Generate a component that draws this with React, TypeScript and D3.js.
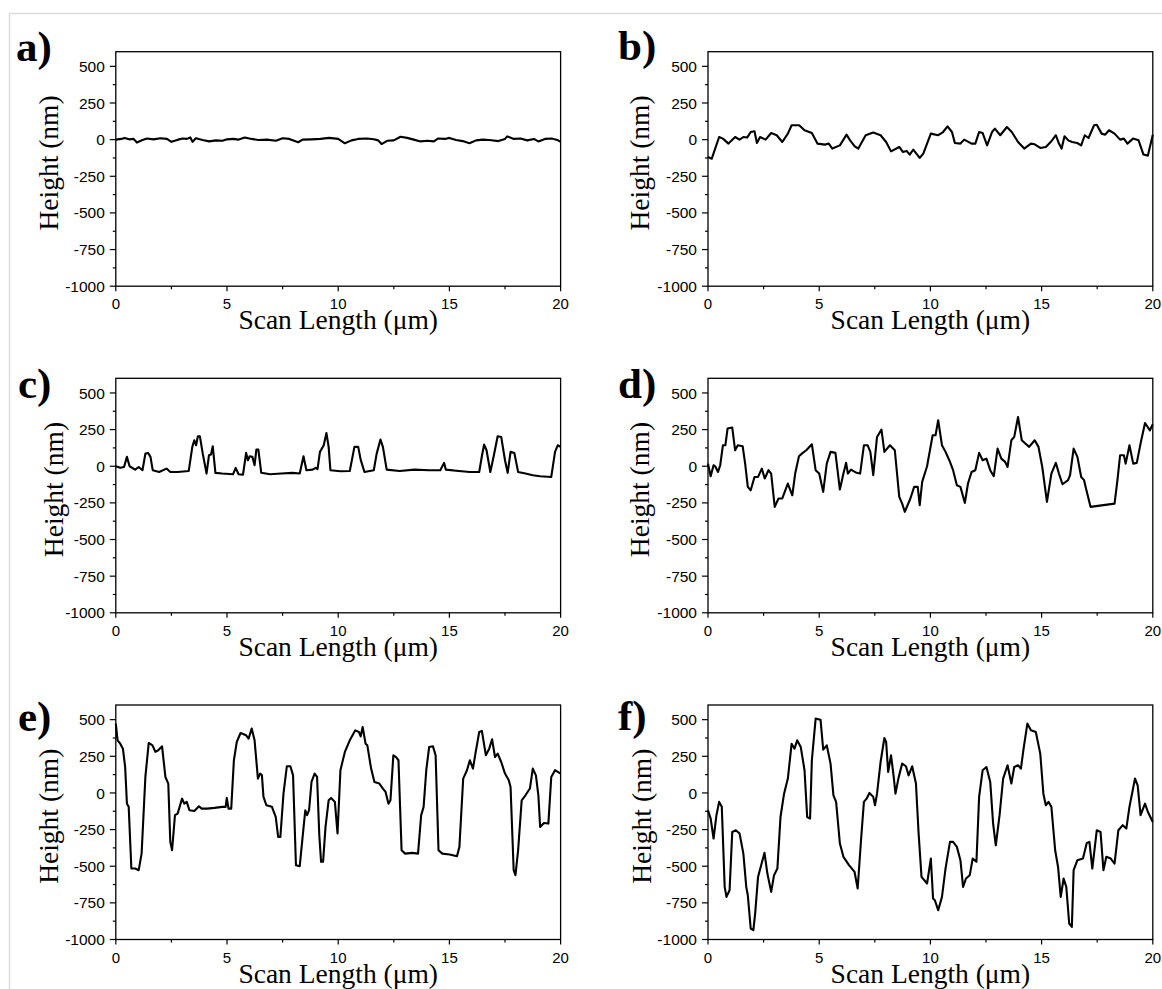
import React from "react";
import * as d3 from "d3";

// ---------- data (Scan Length μm, Height nm) ----------
const profileA: [number, number][] = [
  [0, 0], [0.25, 5], [0.4, 12], [0.6, 2], [0.8, 5], [0.95, -20], [1.2, -2], [1.4, 8], [1.7, 2], [2.0, 10],
  [2.3, 5], [2.5, -15], [2.8, 0], [3.0, 8], [3.2, 5], [3.35, 15], [3.45, -15], [3.6, 10], [3.9, -3], [4.2, -12],
  [4.5, -5], [4.8, -8], [5.0, 2], [5.3, 5], [5.5, 0], [5.8, 15], [6.1, 5], [6.4, -2], [6.8, 0], [7.2, -8],
  [7.5, 10], [7.8, 5], [8.2, -18], [8.4, 0], [8.8, 2], [9.2, 5], [9.6, 12], [10.0, 5], [10.3, -25], [10.6, -5],
  [10.9, 5], [11.3, 8], [11.6, 3], [11.8, -5], [11.95, -30], [12.2, -8], [12.5, -5], [12.8, 20], [13.1, 12], [13.4, 0],
  [13.7, -12], [14.0, -8], [14.3, -12], [14.5, 8], [14.8, 5], [15.0, 12], [15.3, -2], [15.6, -10], [15.9, -25], [16.2, -5],
  [16.5, 0], [16.8, -3], [17.2, -10], [17.5, 5], [17.6, 22], [17.9, 5], [18.2, 8], [18.5, -5], [18.8, 5], [19.0, -12],
  [19.3, 5], [19.6, 8], [19.85, -2], [20, -15],
];

const profileB: [number, number][] = [
  [0, -118], [0.17, -130], [0.5, 18], [0.67, 7], [0.92, -27], [1.22, 18], [1.42, 0], [1.59, 18], [1.76, 14], [1.92, 52],
  [2.09, 57], [2.2, -23], [2.34, 18], [2.59, 0], [2.84, 45], [3.09, 30], [3.34, -16], [3.59, 41], [3.76, 98], [4.1, 98],
  [4.34, 64], [4.67, 45], [4.92, -27], [5.26, -34], [5.43, -27], [5.59, -61], [5.93, -39], [6.23, 34], [6.39, -5], [6.59, -45],
  [6.76, -61], [7.09, 30], [7.43, 48], [7.76, 30], [8.01, -16], [8.23, -80], [8.6, -50], [8.76, -84], [8.93, -77], [9.07, -102],
  [9.23, -68], [9.52, -125], [9.68, -95], [10.02, 41], [10.35, 30], [10.57, 52], [10.77, 91], [10.97, 52], [11.1, -23], [11.35, -27],
  [11.52, 0], [11.85, -27], [12.02, -27], [12.19, 52], [12.35, 45], [12.55, -39], [12.77, 52], [12.9, 75], [13.14, 30], [13.44, 86],
  [13.66, 52], [13.94, -16], [14.22, -61], [14.52, -27], [14.69, -32], [14.94, -57], [15.19, -50], [15.44, -11], [15.64, 30], [15.78, -27],
  [15.9, -61], [16.03, 23], [16.2, -5], [16.37, -16], [16.6, -23], [16.78, -39], [16.94, 30], [17.11, 11], [17.36, 98], [17.48, 102],
  [17.7, 41], [17.86, 34], [18.03, 64], [18.28, 41], [18.53, 0], [18.7, 7], [18.86, -27], [19.11, 7], [19.36, -5], [19.58, -102],
  [19.78, -109], [20, 34],
];

const profileC: [number, number][] = [
  [0, 0], [0.2, -11], [0.37, -5], [0.5, 64], [0.62, 0], [0.87, -23], [1.03, -5], [1.2, -27], [1.33, 86], [1.45, 91],
  [1.56, 64], [1.66, -27], [1.95, -39], [2.28, -16], [2.45, -39], [2.78, -39], [3.28, -32], [3.44, 132], [3.53, 177], [3.61, 143],
  [3.69, 205], [3.78, 205], [3.91, 86], [4.08, -50], [4.19, 75], [4.28, 80], [4.36, 136], [4.48, -45], [4.78, -50], [5.27, -55],
  [5.39, -11], [5.52, -55], [5.72, -57], [5.86, 91], [5.94, 41], [6.02, 68], [6.14, 64], [6.24, 7], [6.32, 114], [6.41, 114],
  [6.54, -45], [6.94, -55], [7.44, -50], [7.94, -45], [8.27, -50], [8.44, 68], [8.57, -27], [8.85, -23], [8.99, -11], [9.07, -20],
  [9.18, 98], [9.35, 143], [9.47, 227], [9.57, 132], [9.65, -27], [10.1, -34], [10.52, -32], [10.73, 132], [10.9, 132], [11.01, 45],
  [11.18, -39], [11.6, -27], [11.73, 86], [11.9, 182], [12.01, 132], [12.18, -23], [12.76, -32], [13.43, -23], [14.09, -27], [14.59, -27],
  [14.76, 23], [14.84, -23], [15.42, -32], [15.92, -39], [16.34, -39], [16.46, 68], [16.56, 148], [16.67, 109], [16.84, -39], [17.0, 75],
  [17.17, 205], [17.33, 200], [17.5, 41], [17.62, -45], [17.75, 98], [17.92, 91], [18.09, -39], [18.42, -50], [18.75, -61], [19.08, -68],
  [19.58, -73], [19.75, 98], [19.87, 143], [20, 132],
];

const profileD: [number, number][] = [
  [0, 18], [0.12, -68], [0.25, 7], [0.33, -2], [0.45, -39], [0.55, 7], [0.67, 143], [0.78, 143], [0.88, 257], [1.09, 264],
  [1.22, 109], [1.34, 143], [1.56, 136], [1.67, 18], [1.79, -141], [1.92, -164], [2.09, -73], [2.25, -73], [2.42, -16], [2.55, -84],
  [2.72, -27], [2.84, -50], [3.0, -277], [3.17, -220], [3.34, -220], [3.59, -118], [3.79, -198], [3.92, -50], [4.09, 68], [4.26, 91],
  [4.42, 109], [4.67, 150], [4.84, -27], [5.0, -50], [5.18, -175], [5.34, 18], [5.51, 98], [5.73, 91], [5.93, -159], [6.09, -50],
  [6.21, 23], [6.29, -50], [6.43, -23], [6.68, -45], [6.84, -50], [7.01, 143], [7.18, 143], [7.3, 98], [7.43, -61], [7.6, 200],
  [7.8, 250], [7.93, 98], [8.18, 143], [8.4, 109], [8.6, -209], [8.73, -255], [8.85, -311], [9.1, -220], [9.27, -141], [9.43, -141],
  [9.52, -266], [9.63, -107], [9.85, 0], [10.02, 143], [10.1, 211], [10.23, 211], [10.35, 314], [10.52, 143], [10.68, 98], [10.85, 41],
  [11.02, -27], [11.19, -130], [11.35, -141], [11.55, -250], [11.69, -118], [11.85, -39], [12.02, -27], [12.19, 91], [12.35, 41], [12.52, 52],
  [12.69, -27], [12.85, -68], [13.02, 120], [13.19, 52], [13.36, 30], [13.47, -5], [13.64, 177], [13.77, 200], [13.94, 336], [14.11, 177],
  [14.27, 155], [14.44, 132], [14.69, 177], [14.86, 132], [15.03, -5], [15.24, -243], [15.44, -50], [15.64, 23], [15.78, -50], [15.94, -123],
  [16.19, -95], [16.28, -61], [16.44, 120], [16.61, 64], [16.78, -73], [16.91, -95], [16.98, -141], [17.2, -277], [18.28, -255], [18.41, -95],
  [18.53, 75], [18.7, 75], [18.78, 18], [18.95, 143], [19.12, 18], [19.28, 23], [19.45, 155], [19.65, 295], [19.87, 245], [20, 286],
];

const profileE: [number, number][] = [
  [0, 473], [0.08, 359], [0.2, 336], [0.32, 302], [0.42, 177], [0.5, -73], [0.58, -95], [0.7, -516], [0.87, -516], [1.03, -527],
  [1.16, -414], [1.33, 109], [1.48, 341], [1.65, 325], [1.78, 280], [1.91, 291], [2.08, 318], [2.23, 109], [2.36, 64], [2.45, -334],
  [2.53, -391], [2.66, -152], [2.78, -141], [2.98, -39], [3.08, -73], [3.19, -61], [3.31, -118], [3.53, -123], [3.74, -91], [3.86, -107],
  [4.11, -107], [4.44, -102], [4.78, -95], [4.94, -95], [4.99, -34], [5.07, -107], [5.19, -107], [5.31, 223], [5.44, 348], [5.61, 409],
  [5.86, 393], [5.97, 370], [6.11, 439], [6.24, 359], [6.39, 98], [6.49, 132], [6.57, 120], [6.64, -27], [6.77, -84], [7.02, -95],
  [7.19, -164], [7.3, -300], [7.4, -300], [7.54, -5], [7.69, 182], [7.85, 182], [7.97, 120], [8.1, -493], [8.27, -500], [8.4, -300],
  [8.52, -118], [8.6, -152], [8.69, -118], [8.8, 75], [8.94, 132], [9.05, 109], [9.15, -289], [9.23, -470], [9.32, -470], [9.43, -232],
  [9.57, -50], [9.68, -34], [9.85, -61], [9.97, -277], [10.1, 155], [10.3, 280], [10.52, 359], [10.77, 427], [10.93, 416], [11.01, 386],
  [11.1, 450], [11.23, 336], [11.31, 325], [11.48, 166], [11.63, 75], [11.85, 64], [12.01, 30], [12.13, 7], [12.26, -73], [12.35, -50],
  [12.48, 257], [12.6, 245], [12.71, 223], [12.85, -391], [13.01, -414], [13.34, -409], [13.59, -414], [13.73, -152], [13.84, -95], [13.96, 155],
  [14.09, 314], [14.26, 318], [14.38, 257], [14.51, -391], [14.68, -414], [15.01, -420], [15.34, -432], [15.45, -368], [15.62, 98], [15.79, 155],
  [15.92, 223], [16.06, 166], [16.17, 268], [16.34, 416], [16.46, 423], [16.64, 257], [16.79, 302], [16.92, 366], [17.05, 245], [17.17, 268],
  [17.33, 211], [17.5, 132], [17.67, 86], [17.75, 41], [17.89, -527], [17.97, -561], [18.09, -391], [18.25, -50], [18.42, -16], [18.62, 30],
  [18.75, 166], [18.89, 120], [19.0, -16], [19.08, -232], [19.25, -205], [19.45, -209], [19.58, 109], [19.75, 155], [20, 132],
];

const profileF: [number, number][] = [
  [0, -118], [0.12, -175], [0.25, -311], [0.38, -152], [0.5, -61], [0.62, -95], [0.75, -641], [0.83, -709], [0.97, -664], [1.09, -266],
  [1.25, -255], [1.42, -277], [1.59, -414], [1.72, -641], [1.79, -698], [1.92, -925], [2.04, -936], [2.12, -823], [2.25, -573], [2.39, -493],
  [2.54, -409], [2.67, -550], [2.84, -675], [2.97, -561], [3.12, -516], [3.26, -164], [3.42, -5], [3.59, 98], [3.76, 336], [3.89, 302],
  [4.01, 359], [4.17, 314], [4.34, 155], [4.46, -164], [4.59, -175], [4.67, 223], [4.84, 507], [5.06, 500], [5.18, 295], [5.34, 325],
  [5.51, 200], [5.64, -16], [5.76, -61], [5.93, -345], [6.09, -436], [6.34, -493], [6.59, -539], [6.73, -652], [6.88, -323], [7.01, -61],
  [7.13, -39], [7.26, 0], [7.43, -27], [7.51, -84], [7.6, -5], [7.76, 211], [7.93, 375], [8.01, 348], [8.1, 143], [8.23, 257],
  [8.35, 109], [8.43, -5], [8.56, 98], [8.73, 200], [8.9, 182], [9.02, 120], [9.18, 182], [9.35, 64], [9.47, -277], [9.6, -573],
  [9.85, -618], [10.02, -448], [10.12, -720], [10.2, -732], [10.35, -800], [10.52, -709], [10.68, -516], [10.88, -334], [11.02, -334], [11.19, -368],
  [11.35, -459], [11.47, -641], [11.6, -584], [11.77, -561], [11.9, -448], [12.07, -470], [12.19, -27], [12.35, 155], [12.52, 177], [12.69, 75],
  [12.82, -209], [12.94, -357], [13.11, -152], [13.27, 98], [13.47, 189], [13.64, 64], [13.77, 177], [13.94, 189], [14.07, 166], [14.19, 302],
  [14.36, 473], [14.52, 427], [14.74, 416], [14.94, 268], [15.08, -5], [15.19, -84], [15.31, -61], [15.44, -95], [15.61, -391], [15.74, -505],
  [15.86, -709], [15.99, -584], [16.11, -641], [16.24, -891], [16.36, -914], [16.44, -527], [16.61, -459], [16.86, -448], [17.03, -341], [17.15, -334],
  [17.28, -516], [17.48, -255], [17.65, -266], [17.78, -527], [17.91, -436], [18.11, -448], [18.28, -482], [18.45, -255], [18.65, -220], [18.81, -243],
  [18.95, -95], [19.2, 98], [19.32, 52], [19.45, -152], [19.65, -73], [19.78, -130], [20, -198],
];

const panelLetters = ["a)", "b)", "c)", "d)", "e)", "f)"];
const profiles = [profileA, profileB, profileC, profileD, profileE, profileF];
const xDomain: [number, number] = [0, 20];
const yDomain: [number, number] = [-1000, 600];
const xMajorTicks = [0, 5, 10, 15, 20];
const xMinorTicks = [2.5, 7.5, 12.5, 17.5];
const yMajorTicks = [500, 250, 0, -250, -500, -750, -1000];
const yMinorTicks = [375, 125, -125, -375, -625, -875];
const xTitle = "Scan Length (μm)";
const yTitle = "Height (nm)";

// ---------- layout ----------
const W = 1162;
const H = 989;
const colLeft = [115.8, 708];
const rowTop = [51.7, 378.3, 705];
const plotW = 444.8;
const plotH = 234.5;
// per-panel fine offsets: letter x, letter baseline, y-title baseline x
const panelExtras = [
  { lx: 16, ly: 61, tx: 57.5 },
  { lx: 618, ly: 60, tx: 649 },
  { lx: 18, ly: 398, tx: 62.5 },
  { lx: 618, ly: 398, tx: 649 },
  { lx: 18, ly: 731, tx: 57.5 },
  { lx: 618, ly: 730, tx: 651 },
];

const serif = "'Liberation Serif', 'Times New Roman', Times, serif";
const sans = "'Liberation Sans', Arial, Helvetica, sans-serif";

function Panel({ idx }: { idx: number }) {
  const left = colLeft[idx % 2];
  const top = rowTop[Math.floor(idx / 2)];
  const x = d3.scaleLinear().domain(xDomain).range([left, left + plotW]);
  const y = d3.scaleLinear().domain(yDomain).range([top + plotH, top]);
  const line = d3
    .line<[number, number]>()
    .x((d) => x(d[0]))
    .y((d) => y(d[1]));
  const bottom = top + plotH;
  const ex = panelExtras[idx];
  return (
    <g>
      <text x={ex.lx} y={ex.ly} fontFamily={serif} fontWeight="bold" fontSize={43} fill="#000">
        {panelLetters[idx]}
      </text>
      <path d={line(profiles[idx]) || ""} fill="none" stroke="#000" strokeWidth={2.1} strokeLinejoin="round" />
      <rect x={left} y={top} width={plotW} height={plotH} fill="none" stroke="#000" strokeWidth={1.3} />
      {yMajorTicks.map((t) => (
        <g key={"ym" + t}>
          <line x1={left - 6} x2={left} y1={y(t)} y2={y(t)} stroke="#000" strokeWidth={1.2} />
          <text x={left - 11} y={y(t)} dy="0.36em" textAnchor="end" fontFamily={sans} fontSize={15.5} fill="#000">
            {t}
          </text>
        </g>
      ))}
      {yMinorTicks.map((t) => (
        <line key={"yn" + t} x1={left - 3} x2={left} y1={y(t)} y2={y(t)} stroke="#000" strokeWidth={1.2} />
      ))}
      {xMajorTicks.map((t) => (
        <g key={"xm" + t}>
          <line x1={x(t)} x2={x(t)} y1={bottom} y2={bottom + 5} stroke="#000" strokeWidth={1.2} />
          <text x={x(t)} y={bottom + 23} textAnchor="middle" fontFamily={sans} fontSize={15} fill="#000">
            {t}
          </text>
        </g>
      ))}
      {xMinorTicks.map((t) => (
        <line key={"xn" + t} x1={x(t)} x2={x(t)} y1={bottom} y2={bottom + 3} stroke="#000" strokeWidth={1.2} />
      ))}
      <text
        x={left + plotW / 2}
        y={bottom + 43}
        textAnchor="middle"
        fontFamily={serif}
        fontSize={27.5}
        fill="#000"
      >
        {xTitle}
      </text>
      <text
        transform={`translate(${ex.tx},${top + plotH / 2 - 6}) rotate(-90)`}
        textAnchor="middle"
        fontFamily={serif}
        fontSize={27.5}
        fill="#000"
      >
        {yTitle}
      </text>
    </g>
  );
}

export default function App() {
  return (
    <svg
      width={W}
      height={H}
      style={{ position: "absolute", left: 0, top: 0, background: "#fff" }}
      xmlns="http://www.w3.org/2000/svg"
    >
      <rect x={0} y={0} width={W} height={H} fill="#fff" />
      <rect x={9.5} y={13.5} width={W + 20} height={H + 20} fill="none" stroke="#dcdcdc" strokeWidth={1.5} />
      {profiles.map((_, i) => (
        <Panel key={i} idx={i} />
      ))}
    </svg>
  );
}
